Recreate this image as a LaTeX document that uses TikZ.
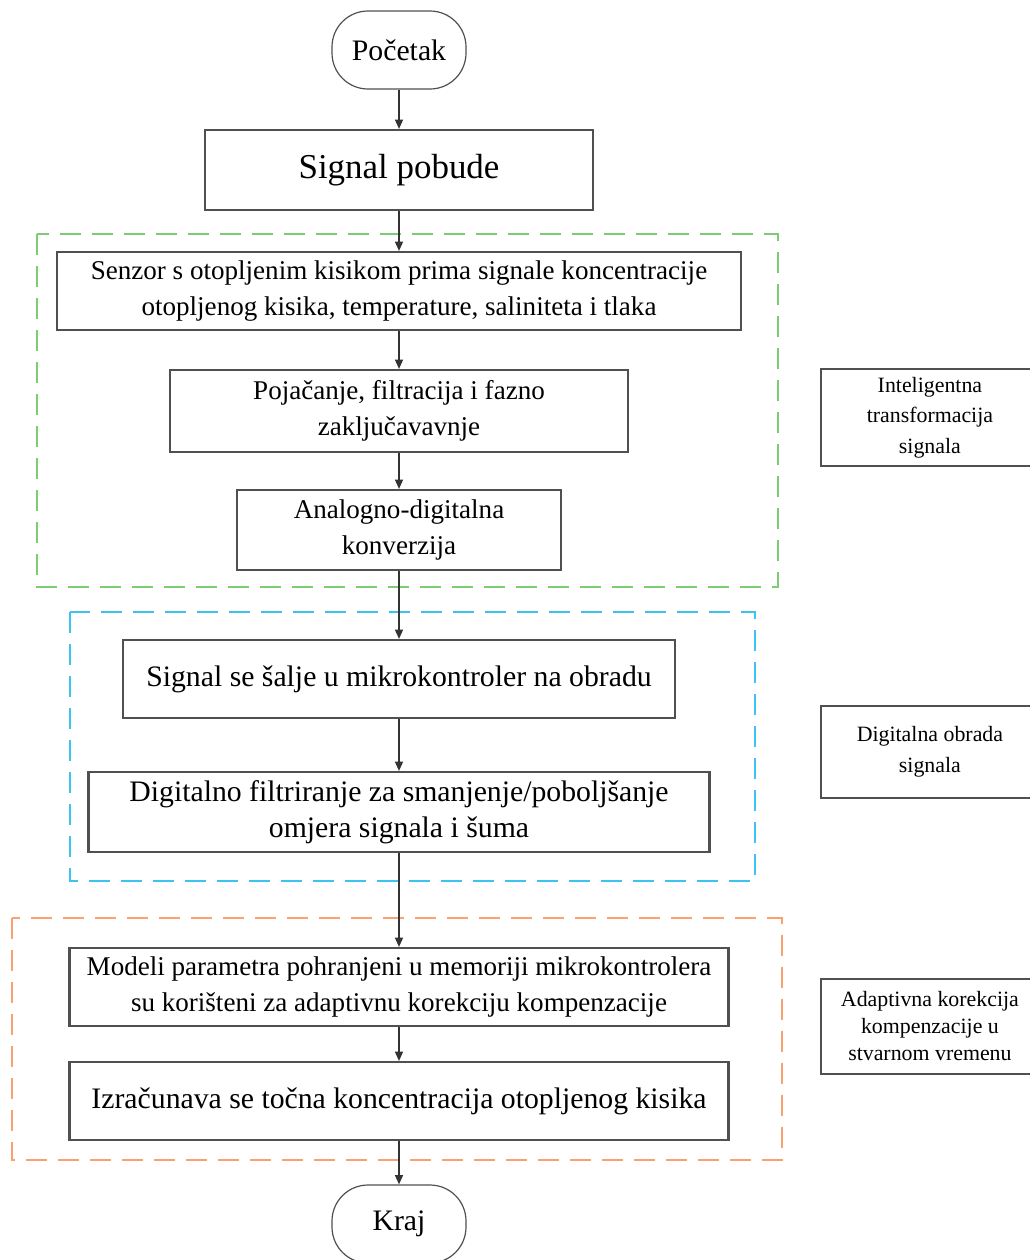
\documentclass[tikz,border=0pt]{standalone}
\usepackage{fontspec}
\setmainfont{Liberation Serif}
\usetikzlibrary{positioning,arrows.meta,shapes,calc}
\definecolor{grpgreen}{HTML}{7DCB72}
\definecolor{grpblue}{HTML}{3EC3F0}
\definecolor{grporange}{HTML}{FBA070}
\definecolor{boxline}{HTML}{505050}

\begin{document}
\begin{tikzpicture}[x=0.75pt,y=-0.75pt,
      box/.style={draw=boxline,line width=1.6pt,fill=white,inner sep=0pt,align=center},
      small/.style={font=\fontsize{20.3}{27}\selectfont},
      large/.style={font=\fontsize{22.3}{27}\selectfont},
      term/.style={draw=boxline,line width=0.9pt,rounded corners=27pt,fill=white,
        minimum width=100.5pt,minimum height=58.5pt,font=\fontsize{22.3}{26}\selectfont},
      grp/.style={line width=1.6pt,dash pattern=on 16pt off 8pt},
      side/.style={draw=boxline,line width=1.4pt,inner sep=0pt,align=center,
        font=\fontsize{16.4}{23}\selectfont},
      flow/.style={-{Triangle[length=7pt,width=6pt]},line width=1.1pt,black!80}]

    \useasboundingbox (0,0) rectangle (1030,1260);

    % groups
    \draw[grp,grpgreen]  (37,234)  rectangle (778,587);
    \draw[grp,grpblue]   (70,612)  rectangle (755,881);
    \draw[grp,grporange] (12,918)  rectangle (782,1160);

    % main flow
    \node[term] (start) at (399,50) {Početak};
    \node[box,minimum width=291pt,minimum height=60pt,font=\fontsize{26.2}{30}\selectfont]
      (pobuda) at (399,170) {Signal pobude};
    \node[box,small,minimum width=513pt,minimum height=58.5pt]
      (senzor) at (399,291) {Senzor s otopljenim kisikom prima signale koncentracije\\otopljenog kisika, temperature, saliniteta i tlaka};
    \node[box,small,minimum width=343.5pt,minimum height=61.5pt]
      (pojacanje) at (399,411) {Pojačanje, filtracija i fazno\\zaključavavnje};
    \node[box,small,minimum width=243pt,minimum height=60pt]
      (adc) at (399,530) {Analogno-digitalna\\konverzija};
    \node[box,large,minimum width=414pt,minimum height=58.5pt]
      (mcu) at (399,679) {Signal se šalje u mikrokontroler na obradu};
    \node[box,large,minimum width=465.75pt,minimum height=60pt]
      (filtar) at (399,812) {Digitalno filtriranje za smanjenje/poboljšanje\\omjera signala i šuma};
    \node[box,small,minimum width=494.25pt,minimum height=58.5pt]
      (modeli) at (399,987) {Modeli parametra pohranjeni u memoriji mikrokontrolera\\su korišteni za adaptivnu korekciju kompenzacije};
    \node[box,large,minimum width=494.25pt,minimum height=58.5pt]
      (racun) at (399,1101) {Izračunava se točna koncentracija otopljenog kisika};
    \node[term] (kraj) at (399,1224) {Kraj};

    \draw[flow] (start) -- (pobuda);
    \draw[flow] (pobuda) -- (senzor);
    \draw[flow] (senzor) -- (pojacanje);
    \draw[flow] (pojacanje) -- (adc);
    \draw[flow] (adc) -- (mcu);
    \draw[flow] (mcu) -- (filtar);
    \draw[flow] (filtar) -- (modeli);
    \draw[flow] (modeli) -- (racun);
    \draw[flow] (racun) -- (kraj);

    % side labels
    \node[side,minimum width=163.5pt,minimum height=72.75pt,anchor=north west]
      (lbltrans) at (820,368) {Inteligentna\\transformacija\\signala};
    \node[side,minimum width=163.5pt,minimum height=69pt,anchor=north west]
      (lblobrada) at (820,705) {Digitalna obrada\\signala};
    \node[side,minimum width=163.5pt,minimum height=71.25pt,anchor=north west,
      font=\fontsize{16.4}{20.3}\selectfont]
      (lblkorekcija) at (820,978) {Adaptivna korekcija\\kompenzacije u\\stvarnom vremenu};
  \end{tikzpicture}
\end{document}
